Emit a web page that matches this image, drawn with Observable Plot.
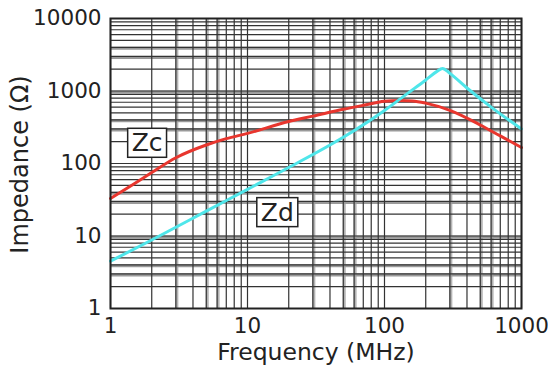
<!DOCTYPE html>
<html>
<head>
<meta charset="utf-8">
<script src="https://cdn.jsdelivr.net/npm/d3@7"></script>
<script src="https://cdn.jsdelivr.net/npm/@observablehq/plot@0.6"></script>
<style>
  html, body { margin: 0; padding: 0; background: #fff; }
  #chart { width: 548px; height: 366px; }
</style>
</head>
<body>
<div id="chart"></div>
<script>
// Data
const freqZc = [1, 1.5, 2, 3, 5, 7, 10, 20, 30, 50, 70, 100, 130, 160, 200, 300, 500, 700, 1000];
const zc     = [33, 53, 75, 120, 180, 220, 260, 380, 450, 560, 635, 720, 740, 730, 680, 540, 340, 240, 166];
const freqZd = [1, 2, 5, 10, 20, 50, 100, 150, 200, 240, 265, 300, 400, 600, 1000];
const zd     = [4.5, 8.8, 22, 44, 88, 230, 540, 950, 1420, 1850, 2050, 1750, 1100, 600, 300];
const xTicks = [1, 10, 100, 1000];
const yTicks = [1, 10, 100, 1000, 10000];
const labelNames = ["Zc", "Zd"];
const labelFreq = [1.85, 16.5];
const labelZ = [190, 21];
const xTitle = "Frequency (MHz)";
const yTitle = "Impedance (Ω)";

const xDecades = [1, 10, 100];
const yDecades = [1, 10, 100, 1000];
const mults = [1, 2, 3, 4, 5, 6, 7, 8, 9];
const xGrayMults = [3, 5, 6];
const yGrayMults = [3, 4];

const xGrid = xDecades.flatMap(d => mults.map(m => d * m)).concat([1000]);
const yGrid = yDecades.flatMap(d => mults.map(m => d * m)).concat([10000]);
const xGray = xDecades.flatMap(d => xGrayMults.map(m => d * m));
const yGray = yDecades.flatMap(d => yGrayMults.map(m => d * m)).concat([10, 1000]);

const zcData = freqZc.map((f, i) => ({f, z: zc[i]}));
const zdData = freqZd.map((f, i) => ({f, z: zd[i]}));
const labels = labelNames.map((name, i) => ({name, f: labelFreq[i], z: labelZ[i]}));

const font = "'DejaVu Sans', Verdana, sans-serif";

const plot = Plot.plot({
  width: 548,
  height: 366,
  marginLeft: 110,
  marginRight: 27,
  marginTop: 18,
  marginBottom: 58,
  style: {fontFamily: font, fontSize: "20px", color: "#222", background: "#fff"},
  x: {type: "log", domain: [1, 1000]},
  y: {type: "log", domain: [1, 10000]},
  marks: [
    Plot.ruleX(xGray, {stroke: "#b4b4b4", strokeWidth: 3, dx: 1}),
    Plot.ruleY(yGray, {stroke: "#9a9a9a", strokeWidth: 3, dy: 1}),
    Plot.ruleX(xGrid, {stroke: "#333", strokeWidth: 1.2}),
    Plot.ruleY(yGrid, {stroke: "#333", strokeWidth: 1.2}),
    Plot.line(zcData, {x: "f", y: "z", stroke: "#e8362e", strokeWidth: 3, curve: "monotone-x"}),
    Plot.line(zdData, {x: "f", y: "z", stroke: "#4fe6ea", strokeWidth: 3, curve: "monotone-x"}),
    Plot.frame({stroke: "#222", strokeWidth: 2}),
    Plot.text(labels, {x: "f", y: "z", text: "name", fontSize: 25, fontWeight: 500, fill: "#222", className: "zlabel"}),
    Plot.axisX({ticks: xTicks, tickFormat: d => String(d), tickSize: 0, tickPadding: 9,
      label: null, fontSize: 21.5, fill: "#222"}),
    Plot.axisY({ticks: yTicks, tickFormat: d => String(d), tickSize: 0, tickPadding: 9,
      label: null, fontSize: 21.5, fill: "#222"}),
    Plot.text([xTitle], {frameAnchor: "bottom", lineAnchor: "middle", textAnchor: "middle", dy: 44, fontSize: 23.5, fill: "#222"}),
    Plot.text([yTitle], {frameAnchor: "left", lineAnchor: "middle", textAnchor: "middle", rotate: -90, dx: -90, dy: 1, fontSize: 24, fill: "#222"})
  ]
});
document.getElementById("chart").appendChild(plot);

// draw boxes around the curve labels
d3.select(plot).selectAll("g.zlabel text").each(function() {
  const b = this.getBBox();
  const padX = 4, padY = 0;
  d3.select(this.parentNode).insert("rect", () => this)
    .attr("transform", this.getAttribute("transform"))
    .attr("x", b.x - padX).attr("y", b.y - padY)
    .attr("width", b.width + 2 * padX).attr("height", b.height + 2 * padY)
    .attr("fill", "#fff").attr("stroke", "#222").attr("stroke-width", 1.5);
});
</script>
</body>
</html>
